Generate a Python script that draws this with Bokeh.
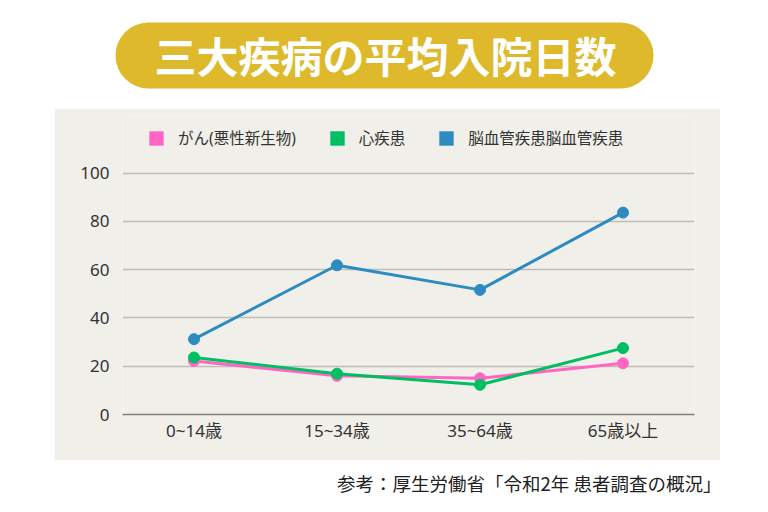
from bokeh.plotting import figure
from bokeh.layouts import column
from bokeh.models import (Legend, LegendItem, BoxAnnotation, Label, FixedTicker,
                          Range1d, ColumnDataSource)
from bokeh.embed import file_html
from bokeh.resources import INLINE

# ---- data ----
categories = ["0~14歳", "15~34歳", "35~64歳", "65歳以上"]
series_names = ["がん(悪性新生物)", "心疾患", "脳血管疾患脳血管疾患"]
cancer = [22.2, 16.0, 15.0, 21.2]
heart = [23.6, 16.9, 12.3, 27.5]
cerebro = [31.2, 61.8, 51.6, 83.6]
y_ticks = [0, 20, 40, 60, 80, 100]
title_text = "三大疾病の平均入院日数"
source_text = "参考：厚生労働省「令和2年 患者調査の概況」"

colors = ["#FF66C4", "#00BF63", "#2E8BC0"]
FONT = "Noto Sans CJK JP"
TICK_FONT = "Noto Sans, Noto Sans CJK JP"
PANEL = "#F0EFE9"

BL, BR = 68, 26  # side borders shared by every plot of the column


def blank(width, height):
    # frame spans x = BL .. width-BR in page pixels; data units == page pixels
    f = figure(width=width, height=height, x_range=Range1d(BL, width - BR),
               y_range=Range1d(0, height), output_backend="svg",
               toolbar_location=None, min_border_left=BL, min_border_right=BR,
               min_border_top=0, min_border_bottom=0, outline_line_color=None,
               background_fill_color="white", border_fill_color="white")
    f.axis.visible = False
    f.grid.visible = False
    return f


# ---- title ----
pt = blank(768, 108)
pt.add_layout(BoxAnnotation(left=115, right=653, bottom=20, top=86,
                            fill_color="#DDB92B", fill_alpha=1, line_color=None,
                            border_radius=33))
pt.add_layout(Label(x=385, y=54, text=title_text, text_align="center",
                    text_baseline="middle", text_color="white", text_font=FONT,
                    text_font_size="42px", text_font_style="bold"))

# ---- main chart ----
p = figure(width=666, height=352, margin=(0, 0, 0, 54), x_range=categories,
           y_range=Range1d(0, 123.4), output_backend="svg", toolbar_location=None,
           min_border_left=BL, min_border_right=BR, min_border_top=8,
           min_border_bottom=46, background_fill_color=PANEL,
           border_fill_color=PANEL, outline_line_color=None)

leg_r = []
for vals, c in zip([cancer, heart, cerebro], colors):
    src = ColumnDataSource(dict(x=categories, y=vals))
    p.line("x", "y", source=src, line_color=c, line_width=3)
    p.scatter("x", "y", source=src, size=11, fill_color=c, line_color=c)
    # zero-size proxy used only for the square legend swatch
    leg_r.append(p.rect("x", "y", source=src, width=0, height=0,
                        fill_color=c, line_color=None))

legend = Legend(items=[LegendItem(label=n, renderers=[r]) for n, r in zip(series_names, leg_r)],
                orientation="horizontal", location=(25, 265), glyph_width=18,
                glyph_height=18, label_standoff=13, spacing=32, padding=0, margin=0,
                border_line_color=None, background_fill_alpha=0,
                label_text_font=TICK_FONT, label_text_font_size="15.5px",
                label_text_color="#333333")
p.add_layout(legend)

p.yaxis.ticker = FixedTicker(ticks=y_ticks)
p.yaxis.axis_line_color = None
p.yaxis.major_tick_line_color = None
p.yaxis.minor_tick_line_color = None
p.yaxis.major_tick_out = 0
p.yaxis.major_label_standoff = 13
p.xaxis.major_tick_line_color = None
p.xaxis.major_tick_out = 0
p.xaxis.axis_line_color = "#808080"
p.xaxis.axis_line_width = 1.3
p.xaxis.major_label_standoff = 4
for ax in (p.xaxis, p.yaxis):
    ax.major_label_text_font = TICK_FONT
    ax.major_label_text_font_size = "17px"
    ax.major_label_text_color = "#333333"
p.xgrid.grid_line_color = None
p.ygrid.grid_line_color = "#BEBDB6"
p.ygrid.grid_line_width = 1.3

# ---- source note ----
ps = blank(768, 52)
ps.add_layout(Label(x=721, y=30, text=source_text, text_align="right",
                    text_baseline="middle", text_color="#222222", text_font=FONT,
                    text_font_size="18.5px"))

layout = column(pt, p, ps, spacing=0)
open("out.html", "w").write(file_html(layout, INLINE))
